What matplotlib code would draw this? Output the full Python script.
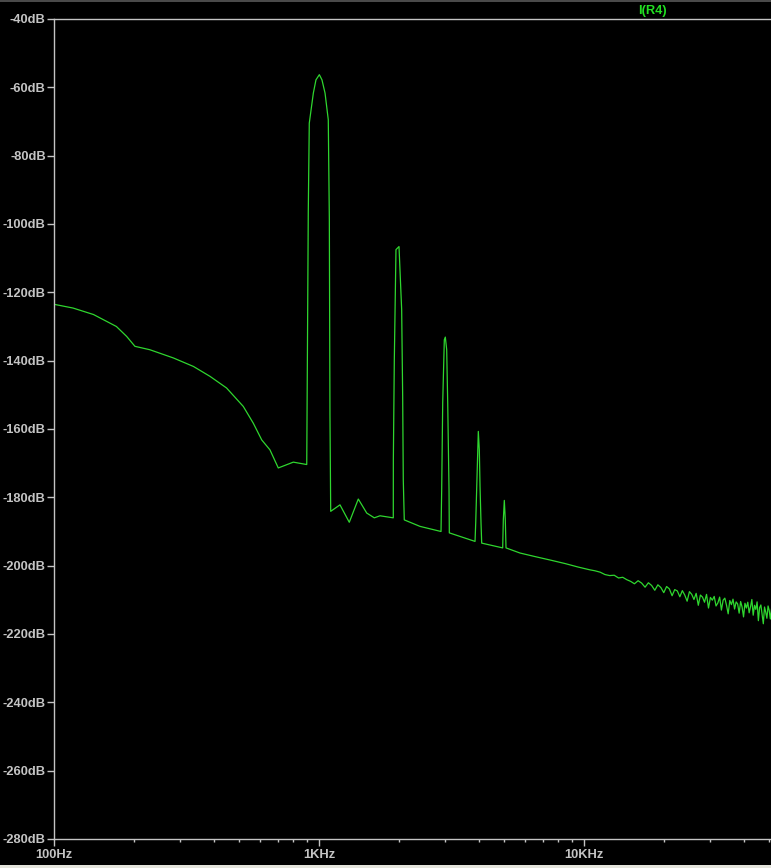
import matplotlib.pyplot as plt
from matplotlib.ticker import FixedLocator, LogLocator, NullFormatter
from matplotlib.patches import Rectangle

# FFT of I(R4)
low_f = [100, 118, 141, 172, 188, 202, 230, 282, 336, 388, 448, 518, 565, 608, 653, 702, 800, 899]
low_db = [-123.5, -124.6, -126.5, -130.0, -132.9, -135.8, -136.8, -139.2, -141.7, -144.6,
          -148.0, -153.4, -158.3, -163.2, -166.1, -171.4, -169.7, -170.4]

fund_f = [903, 911, 919, 952, 974, 1003, 1026, 1054, 1084, 1094, 1100, 1107]
fund_db = [-145.6, -96.7, -70.5, -61.7, -57.8, -56.3, -57.8, -61.7, -69.5, -98.7, -155.8, -184.1]

gap1_f = [1200, 1301, 1407, 1514, 1617, 1699, 1907]
gap1_db = [-182.2, -187.3, -180.5, -184.6, -186.0, -185.4, -186.0]

h2_f = [1908, 1924, 1952, 2004, 2051, 2069, 2080, 2098, 2405, 2887]
h2_db = [-169.0, -139.9, -107.5, -106.6, -125.1, -150.5, -174.9, -186.6, -188.5, -190.0]

h3_f = [2904, 2930, 2971, 2997, 3033, 3060, 3095, 3103, 3880]
h3_db = [-177.8, -152.3, -133.9, -133.1, -136.8, -152.3, -177.8, -190.4, -192.9]

h4_f = [3903, 3937, 3972, 3992, 4027, 4052, 4087, 4111, 4934]
h4_db = [-187.5, -176.8, -166.1, -160.7, -166.1, -176.8, -187.5, -193.4, -194.8]

h5_f = [4961, 5004, 5047, 5078, 5735, 6500, 7500, 8500, 9500, 10500]
h5_db = [-186.6, -180.9, -186.6, -194.8, -196.3, -197.3, -198.4, -199.4, -200.4, -201.2]

tail_f = [11000, 11500, 12000, 12500, 13000, 13500, 14000, 14500, 15000, 15500,
          16000, 16500, 17000, 17500, 18000, 18500, 19000, 19500, 20000, 20500,
          21000, 21500, 22000, 22500, 23000, 23500, 24000, 24500, 25000, 25500,
          26000, 26500, 27000, 27500, 28000, 28500, 29000, 29500, 30000, 30500,
          31000, 31500, 32000, 32500, 33000, 33500, 34000, 34500, 35000, 35500,
          36000, 36500, 37000, 37500, 38000, 38500, 39000, 39500, 40000, 40500,
          41000, 41500, 42000, 42500, 43000, 43500, 44000, 44500, 45000, 45500,
          46000, 46500, 47000, 47500, 48000, 48500, 49000, 49500, 50000, 50500, 51000]
tail_db = [-201.5, -201.9, -202.6, -202.9, -202.8, -203.6, -203.4, -204.1, -204.6, -205.3,
           -204.4, -205.1, -206.3, -205.0, -205.8, -207.2, -205.6, -206.4, -207.9, -206.1,
           -206.8, -208.8, -207.0, -207.4, -209.1, -207.3, -208.6, -210.4, -207.6, -208.4,
           -209.9, -208.1, -211.6, -208.6, -209.2, -210.7, -208.4, -212.4, -209.3, -210.1,
           -209.0, -211.8, -210.9, -209.2, -213.0, -210.1, -209.5, -211.6, -214.1, -210.2,
           -211.4, -209.8, -212.7, -210.6, -211.2, -213.9, -210.5, -212.1, -215.0, -211.0,
           -212.4, -210.7, -213.8, -212.0, -209.9, -214.5, -211.6, -212.8, -210.6, -216.1,
           -212.3, -211.5, -214.2, -217.0, -212.1, -213.6, -215.4, -211.8, -213.1, -215.6, -212.7]

freq = low_f + fund_f + gap1_f + h2_f + h3_f + h4_f + h5_f + tail_f
level = low_db + fund_db + gap1_db + h2_db + h3_db + h4_db + h5_db + tail_db

y_ticks = list(range(-280, -39, 20))
x_ticks = [100, 1000, 10000]
x_labels = ['100Hz', '1KHz', '10KHz']

grey = '#c4c4c4'
trace = '#2fd62f'

W, H = 771, 868
fig = plt.figure(figsize=(W / 100, H / 100), dpi=100, facecolor='black')
ax = fig.add_axes([54 / W, 29 / H, 1 - 54 / W, 820 / H])
ax.set_facecolor('black')

ax.plot(freq, level, color=trace, lw=0.9)

ax.set_xscale('log')
ax.set_xlim(100, 50780)
ax.set_ylim(-280, -40)

ax.set_yticks(y_ticks)
ax.set_yticklabels([f'{v}dB' for v in y_ticks])
ax.xaxis.set_major_locator(FixedLocator(x_ticks))
ax.set_xticklabels(x_labels)
ax.xaxis.set_minor_locator(LogLocator(base=10, subs=range(2, 10)))
ax.xaxis.set_minor_formatter(NullFormatter())

for side in ['left', 'top', 'bottom']:
    ax.spines[side].set_color(grey)
    ax.spines[side].set_linewidth(1)
ax.spines['right'].set_visible(False)

lbl = dict(family='Liberation Sans', weight='bold', size=9.3)
ax.tick_params(axis='y', which='major', colors=grey, length=5, width=1, pad=1)
ax.tick_params(axis='x', which='major', colors=grey, length=5, width=1, pad=2)
ax.tick_params(axis='x', which='minor', colors=grey, length=2.5, width=1)
for t in ax.get_xticklabels() + ax.get_yticklabels():
    t.set_fontproperties(lbl)
    t.set_color(grey)

fig.text(652 / W, 1 - 11 / H, 'I(R4)', color='#22e022', ha='center', va='center',
         family='Liberation Sans', weight='bold', size=9.3)

# window frame bits visible in the screenshot
fig.add_artist(Rectangle((0, 1 - 2 / H), 1, 2 / H, transform=fig.transFigure,
                         color='#4a4a4a', lw=0))
fig.add_artist(Rectangle((0, 0), 1, 3 / H, transform=fig.transFigure,
                         color='#e4e4dc', lw=0))

fig.savefig('out.png', dpi=100, facecolor='black')
